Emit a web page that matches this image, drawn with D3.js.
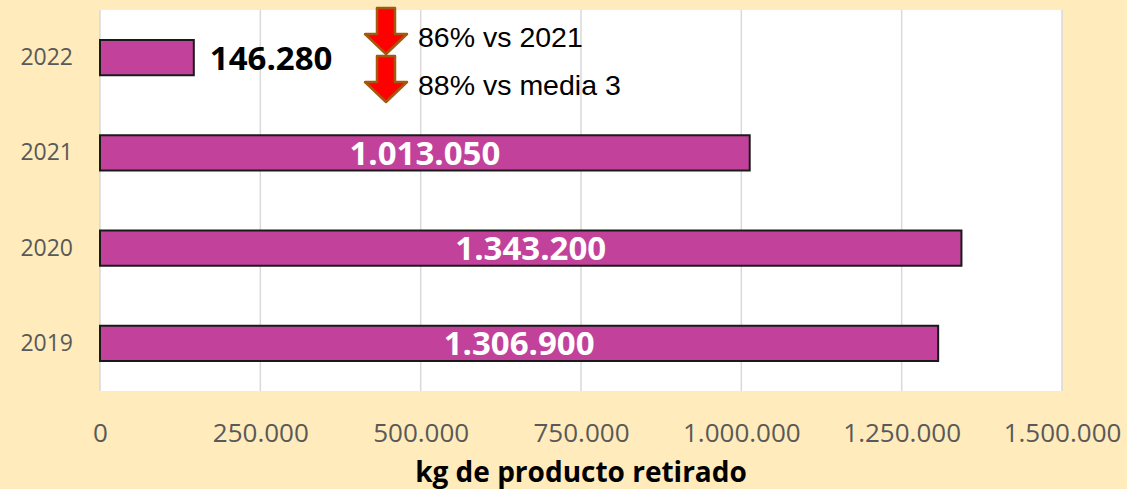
<!DOCTYPE html>
<head>
  <meta charset="utf-8">
  <script src="https://cdn.jsdelivr.net/npm/d3@7/dist/d3.min.js"></script>
  <style>
    body { margin:0; background:#ffebbb; }
    svg { display:block; }
  </style>
</head>
<body>
  <script>
    // data
    var years = ['2019', '2020', '2021', '2022'];
    var kilos = [1306900, 1343200, 1013050, 146280];
    var labels = ['1.306.900', '1.343.200', '1.013.050', '146.280'];
    var ticks = [0, 250000, 500000, 750000, 1000000, 1250000, 1500000];
    var notes = ['86% vs 2021', '88% vs media 3'];

    var width = 1127, height = 489;
    var plotL = 100, plotR = 1062, plotT = 10, plotB = 391;

    var fmt = function(v) {
      return d3.format(',')(v).replace(/,/g, '.');
    };

    var svg = d3.select('body').append('svg')
      .attr('width', width)
      .attr('height', height);

    svg.append('rect')
      .attr('x', plotL).attr('y', plotT)
      .attr('width', plotR - plotL).attr('height', plotB - plotT)
      .attr('fill', '#fff');

    var x = d3.scaleLinear().domain([0, 1500000]).range([plotL, plotR]);
    var y = d3.scaleBand().domain(years.slice().reverse())
      .range([plotT, plotB]).paddingInner(0.63).paddingOuter(0.315);

    // gridlines
    svg.append('g').selectAll('line')
      .data(ticks).enter().append('line')
      .attr('x1', function(d) { return x(d); })
      .attr('x2', function(d) { return x(d); })
      .attr('y1', plotT).attr('y2', plotB)
      .attr('stroke', '#d9d9d9').attr('stroke-width', 1.5);

    // x axis labels
    var xa = svg.append('g')
      .attr('transform', 'translate(0,' + 442 + ')')
      .call(d3.axisBottom(x).tickValues(ticks).tickFormat(fmt).tickSize(0));
    xa.select('.domain').remove();
    xa.selectAll('text')
      .attr('dy', 0)
      .attr('y', 0)
      .style('font-family', 'Open Sans')
      .style('font-size', '26px')
      .attr('fill', '#595959');

    // y axis labels
    var ya = svg.append('g')
      .attr('transform', 'translate(73,0)')
      .call(d3.axisLeft(y).tickSize(0).tickPadding(0));
    ya.select('.domain').remove();
    ya.selectAll('text')
      .style('font-family', 'Open Sans')
      .style('font-size', '23px')
      .attr('fill', '#595959');

    var rows = years.map(function(yr, i) {
      return {year: yr, value: kilos[i], label: labels[i]};
    });

    svg.append('g').selectAll('rect')
      .data(rows).enter().append('rect')
      .attr('x', x(0))
      .attr('y', function(d) { return y(d.year); })
      .attr('width', function(d) { return x(d.value) - x(0); })
      .attr('height', y.bandwidth())
      .attr('fill', '#c2429b')
      .attr('stroke', '#1a1a1a')
      .attr('stroke-width', 2);

    svg.append('g').selectAll('text')
      .data(rows).enter().append('text')
      .attr('x', function(d) {
        return d.value > 500000 ? (x(0) + x(d.value)) / 2 : x(d.value) + 16;
      })
      .attr('y', function(d) { return y(d.year) + y.bandwidth() / 2; })
      .attr('dy', '0.36em')
      .attr('text-anchor', function(d) { return d.value > 500000 ? 'middle' : 'start'; })
      .style('font-family', 'Open Sans')
      .style('font-weight', 'bold')
      .style('font-size', '33px')
      .attr('fill', function(d) { return d.value > 500000 ? '#fff' : '#000'; })
      .text(function(d) { return d.label; });

    // axis title
    svg.append('text')
      .attr('x', (plotL + plotR) / 2)
      .attr('y', 482)
      .attr('text-anchor', 'middle')
      .style('font-family', 'Open Sans')
      .style('font-weight', 'bold')
      .style('font-size', '28px')
      .text('kg de producto retirado');

    // down arrows with notes
    var arrow = 'M-9,0 L9,0 L9,26 L21,26 L0,46 L-21,26 L-9,26 Z';
    var notesG = svg.append('g').selectAll('g')
      .data(notes).enter().append('g')
      .attr('transform', function(d, i) { return 'translate(386,' + (8 + i * 48) + ')'; });
    notesG.append('path')
      .attr('d', arrow)
      .attr('fill', '#ff0000')
      .attr('stroke', '#a5590f')
      .attr('stroke-width', 2.5)
      .attr('stroke-linejoin', 'round');
    notesG.append('text')
      .attr('x', 32).attr('y', 39)
      .style('font-family', 'Liberation Sans')
      .style('font-size', '28.5px')
      .attr('fill', '#000')
      .text(function(d) { return d; });
  </script>
</body>
